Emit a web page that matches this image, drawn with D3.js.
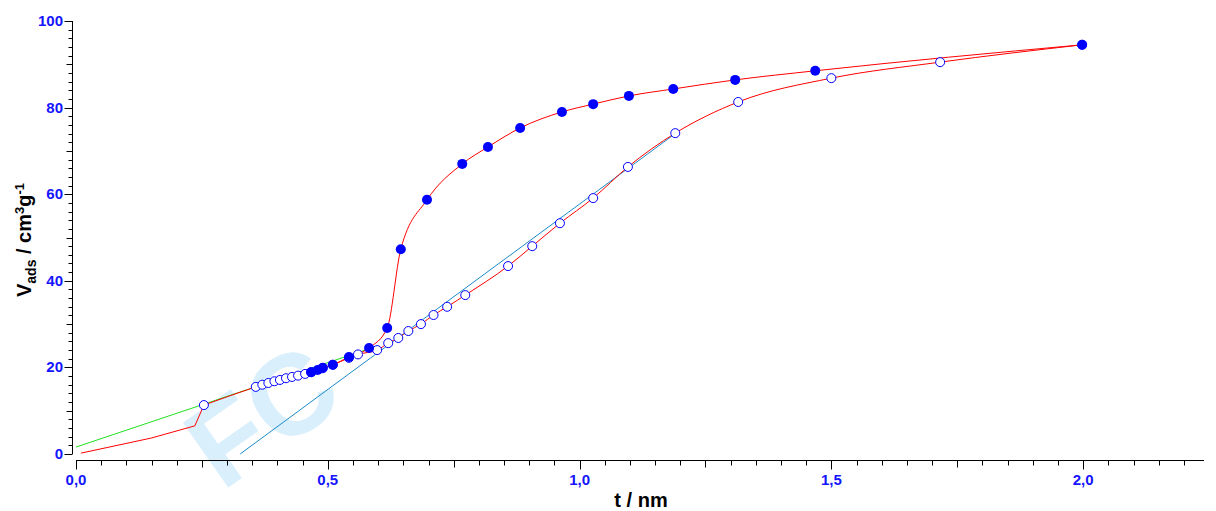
<!DOCTYPE html>
<html lang="en">
<head>
<meta charset="UTF-8">
<title>t-plot</title>
<script src="https://d3js.org/d3.v7.min.js"></script>
<style>
  body { margin: 0; background: #fff; font-family: "Liberation Sans", Arial, sans-serif; }
  .tick-label { fill: #1414ff; font-weight: bold; font-size: 15px; }
  .title { fill: #000; font-weight: bold; font-size: 20px; }
</style>
</head>
<body>
<svg id="chart" width="1216" height="511"></svg>
<script>
// adsorption (open circles)
const adsT = [0.254,0.357,0.37,0.382,0.394,0.405,0.417,0.429,0.441,0.455,0.467,0.49,0.51,0.542,0.56,0.598,0.62,0.64,0.66,0.685,0.71,0.737,0.773,0.858,0.906,0.961,1.027,1.096,1.19,1.315,1.5,1.716,1.998];
const adsV = [11.3,15.5,16.0,16.4,16.8,17.1,17.5,17.8,18.1,18.5,18.9,19.8,20.6,22.2,23.0,24.0,25.6,26.8,28.4,30.0,32.1,34.0,36.7,43.4,48.0,53.3,59.1,66.3,74.1,81.3,86.8,90.5,94.5];
// desorption (filled circles)
const desT = [0.467,0.48,0.49,0.51,0.542,0.582,0.618,0.645,0.697,0.767,0.818,0.882,0.965,1.027,1.098,1.186,1.309,1.468,1.998];
const desV = [18.9,19.4,19.9,20.6,22.4,24.5,29.1,47.3,58.7,67.0,70.9,75.3,79.0,80.8,82.7,84.3,86.4,88.5,94.5];
// low-pressure part of the red curve (no markers)
const lowT = [0.01,0.15,0.236];
const lowV = [0.2,3.7,6.5];
// fitted straight lines
const greenLine = [[0,1.6],[0.6,25]];
const blueLine = [[0.326,0],[1.19,74]];

const svg = d3.select("#chart");
const x = d3.scaleLinear().domain([0, 2.24]).range([76, 1204]);
const y = d3.scaleLinear().domain([0, 100]).range([454, 21]);

// watermark
svg.append("text").attr("transform", "translate(222,492) rotate(-35)")
  .attr("font-size", 115).attr("font-weight", "bold").attr("fill", "#d9effc")
  .attr("font-family", "Liberation Sans, Arial").text("FC");

// axes
const yAxis = svg.append("g").attr("stroke", "#000").attr("stroke-width", 1);
yAxis.append("line").attr("x1", 72.5).attr("x2", 72.5).attr("y1", y(100)).attr("y2", y(0));
d3.range(0, 101, 2).forEach(v => {
  const major = v % 20 === 0, mid = v % 10 === 0;
  yAxis.append("line").attr("x1", 72.5).attr("x2", 72.5 - (major ? 8 : mid ? 6 : 4))
    .attr("y1", Math.round(y(v)) + 0.5).attr("y2", Math.round(y(v)) + 0.5);
});
d3.range(0, 101, 20).forEach(v => {
  svg.append("text").attr("class", "tick-label").attr("x", 63).attr("y", y(v) + 5)
    .attr("text-anchor", "end").text(v);
});

const xAxis = svg.append("g").attr("stroke", "#000").attr("stroke-width", 1);
xAxis.append("line").attr("x1", x(0)).attr("x2", x(2.24)).attr("y1", 460.5).attr("y2", 460.5);
d3.range(0, 45).forEach(i => {
  const t = i * 0.05;
  const major = i % 10 === 0, mid = i % 5 === 0;
  xAxis.append("line").attr("x1", Math.round(x(t)) + 0.5).attr("x2", Math.round(x(t)) + 0.5)
    .attr("y1", 460.5).attr("y2", 460.5 + (major ? 9 : mid ? 7 : 5));
});
d3.range(0, 2.01, 0.5).forEach(t => {
  svg.append("text").attr("class", "tick-label").attr("x", x(t)).attr("y", 485)
    .attr("text-anchor", "middle").text(t.toFixed(1).replace(".", ","));
});

svg.append("text").attr("class", "title").attr("x", 641).attr("y", 507)
  .attr("text-anchor", "middle").text("t / nm");
const yt = svg.append("text").attr("class", "title")
  .attr("transform", "translate(31,240) rotate(-90)").attr("text-anchor", "middle");
yt.append("tspan").text("V");
yt.append("tspan").attr("font-size", 14).attr("dy", 5).text("ads");
yt.append("tspan").attr("dy", -5).text(" / cm");
yt.append("tspan").attr("font-size", 13).attr("dy", -7).text("3");
yt.append("tspan").attr("dy", 7).text("g");
yt.append("tspan").attr("font-size", 13).attr("dy", -7).text("-1");

const line = d3.line().x(d => x(d[0])).y(d => y(d[1]));
const smooth = d3.line().x(d => x(d[0])).y(d => y(d[1])).curve(d3.curveMonotoneX);

svg.append("path").attr("d", line(greenLine)).attr("stroke", "#22e022").attr("fill", "none");
svg.append("path").attr("d", line(blueLine)).attr("stroke", "#1a8ac8").attr("fill", "none");

const adsPts = lowT.map((t, i) => [t, lowV[i]]).concat(adsT.map((t, i) => [t, adsV[i]]));
const desPts = desT.map((t, i) => [t, desV[i]]);
svg.append("path").attr("d", line(adsPts.slice(0, 4))).attr("stroke", "#ff0000").attr("fill", "none");
svg.append("path").attr("d", smooth(adsPts.slice(3))).attr("stroke", "#ff0000").attr("fill", "none");
svg.append("path").attr("d", smooth(desPts)).attr("stroke", "#ff0000").attr("fill", "none");

svg.append("g").selectAll("circle").data(adsT).join("circle")
  .attr("cx", d => x(d)).attr("cy", (d, i) => y(adsV[i])).attr("r", 4.5)
  .attr("fill", "#fff").attr("stroke", "#0000ff").attr("stroke-width", 1);
svg.append("g").selectAll("circle").data(desT).join("circle")
  .attr("cx", d => x(d)).attr("cy", (d, i) => y(desV[i])).attr("r", 5)
  .attr("fill", "#0000ff");
</script>
</body>
</html>
